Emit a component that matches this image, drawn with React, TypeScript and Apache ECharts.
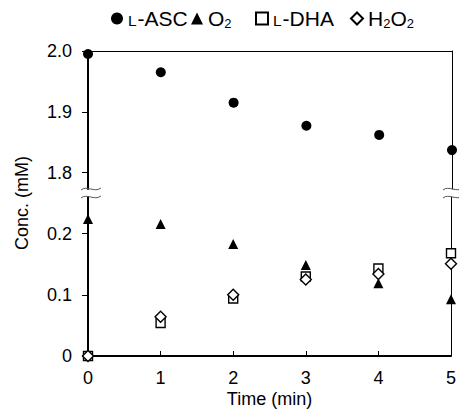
import React, { useEffect, useRef } from "react";
import * as echarts from "echarts";

const times = [0, 1, 2, 3, 4, 5];
const ascValues = [1.995, 1.965, 1.915, 1.877, 1.862, 1.837];
const o2Values = [0.224, 0.216, 0.183, 0.149, 0.119, 0.093];
const dhaValues = [0, 0.054, 0.094, 0.13, 0.143, 0.168];
const h2o2Values = [0, 0.064, 0.1, 0.125, 0.134, 0.151];
const upperTicks = [1.8, 1.9, 2.0];
const lowerTicks = [0, 0.1, 0.2];
const seriesNames = ["L-ASC", "O2", "L-DHA", "H2O2"];
const legendLabels: Record<string, string> = {
  "L-ASC": "{sc|L}{t|-ASC}",
  O2: "{t|O}{sub|2}",
  "L-DHA": "{sc|L}{t|-DHA}",
  H2O2: "{t|H}{sub|2}{t|O}{sub|2}",
};
const legendLefts = [106, 186, 250, 345];

const FONT = "Liberation Sans, Arial, sans-serif";

export default function App() {
  const ref = useRef<HTMLDivElement>(null);
  useEffect(() => {
    document.body.style.margin = "0";
    const chart = echarts.init(ref.current!, null, { renderer: "svg" });
    const pts = (vals: number[]) => times.map((t, i) => [t, vals[i]]);
    const hollow = { color: "#fff", borderColor: "#000", borderWidth: 1.4, opacity: 1 };
    const solid = { color: "#000", opacity: 1 };
    const yLabelFmt = (v: number) => (v === 0 ? "0" : v.toFixed(1));
    const leftY = (grid: number, min: number, max: number, ticks: number[]) => ({
      type: "value",
      gridIndex: grid,
      position: "left",
      min,
      max,
      axisLine: { show: true, lineStyle: { color: "#000", width: 2 } },
      axisTick: { show: true, inside: false, length: 6, customValues: ticks, lineStyle: { color: "#000", width: 1 } },
      axisLabel: { show: true, customValues: ticks, formatter: yLabelFmt, margin: 16, fontSize: 18, color: "#000", fontFamily: FONT },
      splitLine: { show: false },
    });
    const rightY = (grid: number, min: number, max: number) => ({
      type: "value",
      gridIndex: grid,
      position: "right",
      min,
      max,
      axisLine: { show: true, lineStyle: { color: "#000", width: 1 } },
      axisTick: { show: false },
      axisLabel: { show: false },
      splitLine: { show: false },
    });
    const breakMark = (cx: number, cy: number) => ({
      type: "bezierCurve",
      silent: true,
      z: 100,
      shape: { x1: cx - 9, y1: cy + 1, cpx1: cx - 3, cpy1: cy - 4, cpx2: cx + 4, cpy2: cy + 4, x2: cx + 11, y2: cy - 1 },
      style: { stroke: "#555", lineWidth: 1, fill: null },
    });
    const legendText = {
      fontFamily: FONT,
      color: "#000",
      rich: {
        t: { fontSize: 21, verticalAlign: "middle", fontFamily: FONT, color: "#000" },
        sc: { fontSize: 15.5, verticalAlign: "middle", padding: [1.5, 1, -1.5, 0], fontFamily: FONT, color: "#000" },
        sub: { fontSize: 13, verticalAlign: "middle", padding: [5, 0, -5, 0], fontFamily: FONT, color: "#000" },
      },
    };
    chart.setOption({
      animation: false,
      backgroundColor: "#fff",
      textStyle: { fontFamily: FONT },
      legend: seriesNames.map((name, i) => ({
        top: 3,
        left: legendLefts[i],
        itemWidth: 12,
        itemHeight: 12,
        data: [name],
        formatter: (n: string) => legendLabels[n],
        textStyle: legendText,
      })),
      grid: [
        { left: 88, right: 7, top: 51, height: 138 },
        { left: 88, right: 7, top: 197, height: 159 },
      ],
      xAxis: [
        {
          type: "value",
          gridIndex: 0,
          position: "top",
          min: 0,
          max: 5,
          interval: 1,
          axisLine: { show: true, lineStyle: { color: "#000", width: 1 } },
          axisTick: { show: false },
          axisLabel: { show: false },
          splitLine: { show: false },
        },
        {
          type: "value",
          gridIndex: 1,
          position: "bottom",
          min: 0,
          max: 5,
          interval: 1,
          name: "Time (min)",
          nameLocation: "middle",
          nameGap: 34,
          nameTextStyle: { fontSize: 18, color: "#000", fontFamily: FONT },
          axisLine: { show: true, lineStyle: { color: "#000", width: 2 } },
          axisTick: { show: true, inside: true, length: 5, lineStyle: { color: "#000", width: 1 } },
          axisLabel: { show: true, margin: 13, fontSize: 18, color: "#000", fontFamily: FONT },
          splitLine: { show: false },
        },
      ],
      yAxis: [
        leftY(0, 1.773, 2.0, upperTicks),
        rightY(0, 1.773, 2.0),
        leftY(1, 0, 0.26, lowerTicks),
        rightY(1, 0, 0.26),
      ],
      graphic: [
        breakMark(90, 189),
        breakMark(90, 197),
        breakMark(452, 189),
        breakMark(452, 197),
        {
          type: "text",
          x: 22,
          y: 203,
          rotation: Math.PI / 2,
          style: { text: "Conc. (mM)", fontSize: 18, fontFamily: FONT, fill: "#000", textAlign: "center", textVerticalAlign: "middle" },
        },
      ],
      series: [
        {
          name: "L-ASC",
          type: "scatter",
          xAxisIndex: 0,
          yAxisIndex: 0,
          symbol: "circle",
          symbolSize: 10,
          clip: false,
          itemStyle: solid,
          data: pts(ascValues),
          z: 3,
        },
        {
          name: "O2",
          type: "scatter",
          xAxisIndex: 1,
          yAxisIndex: 2,
          symbol: "triangle",
          symbolSize: 10,
          clip: false,
          itemStyle: solid,
          data: pts(o2Values),
          z: 3,
        },
        {
          name: "L-DHA",
          type: "scatter",
          xAxisIndex: 1,
          yAxisIndex: 2,
          symbol: "rect",
          symbolSize: 9,
          clip: false,
          itemStyle: hollow,
          data: pts(dhaValues),
          z: 4,
        },
        {
          name: "H2O2",
          type: "scatter",
          xAxisIndex: 1,
          yAxisIndex: 2,
          symbol: "diamond",
          symbolSize: [11, 11],
          clip: false,
          itemStyle: hollow,
          data: pts(h2o2Values),
          z: 5,
        },
      ],
    });
    return () => chart.dispose();
  }, []);
  return <div ref={ref} style={{ width: 459, height: 414 }} />;
}
